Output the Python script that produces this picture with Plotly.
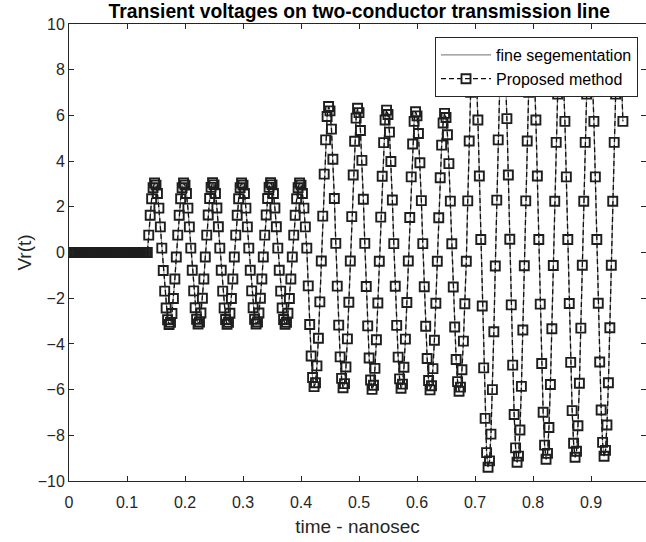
import plotly.graph_objects as go

# ---------------- data ----------------
# quiet part before the wave arrives
t_quiet = [0.0000, 0.0025, 0.0050, 0.0075, 0.0100, 0.0125, 0.0150, 0.0175, 0.0200, 0.0225,
           0.0250, 0.0275, 0.0300, 0.0325, 0.0350, 0.0375, 0.0400, 0.0425, 0.0450, 0.0475,
           0.0500, 0.0525, 0.0550, 0.0575, 0.0600, 0.0625, 0.0650, 0.0675, 0.0700, 0.0725,
           0.0750, 0.0775, 0.0800, 0.0825, 0.0850, 0.0875, 0.0900, 0.0925, 0.0950, 0.0975,
           0.1000, 0.1025, 0.1050, 0.1075, 0.1100, 0.1125, 0.1150, 0.1175, 0.1200, 0.1225,
           0.1250, 0.1275, 0.1300, 0.1325, 0.1350]
v_quiet = [0.00, 0.00, 0.00, 0.00, 0.00, 0.00, 0.00, 0.00, 0.00, 0.00,
           0.00, 0.00, 0.00, 0.00, 0.00, 0.00, 0.00, 0.00, 0.00, 0.00,
           0.00, 0.00, 0.00, 0.00, 0.00, 0.00, 0.00, 0.00, 0.00, 0.00,
           0.00, 0.00, 0.00, 0.00, 0.00, 0.00, 0.00, 0.00, 0.00, 0.00,
           0.00, 0.00, 0.00, 0.00, 0.00, 0.00, 0.00, 0.00, 0.00, 0.00,
           0.00, 0.00, 0.00, 0.00, 0.00]

# first arrival, amplitude about 3
t_seg1 = [0.1375, 0.1400, 0.1425, 0.1450, 0.1475, 0.1500, 0.1525, 0.1550, 0.1575, 0.1600,
          0.1625, 0.1650, 0.1675, 0.1700, 0.1725, 0.1750, 0.1775, 0.1800, 0.1825, 0.1850,
          0.1875, 0.1900, 0.1925, 0.1950, 0.1975, 0.2000, 0.2025, 0.2050, 0.2075, 0.2100,
          0.2125, 0.2150, 0.2175, 0.2200, 0.2225, 0.2250, 0.2275, 0.2300, 0.2325, 0.2350,
          0.2375, 0.2400, 0.2425, 0.2450, 0.2475, 0.2500, 0.2525, 0.2550, 0.2575, 0.2600,
          0.2625, 0.2650, 0.2675, 0.2700, 0.2725, 0.2750, 0.2775, 0.2800, 0.2825, 0.2850,
          0.2875, 0.2900, 0.2925, 0.2950, 0.2975, 0.3000, 0.3025, 0.3050, 0.3075, 0.3100,
          0.3125, 0.3150, 0.3175, 0.3200, 0.3225, 0.3250, 0.3275, 0.3300, 0.3325, 0.3350,
          0.3375, 0.3400, 0.3425, 0.3450, 0.3475, 0.3500, 0.3525, 0.3550, 0.3575, 0.3600,
          0.3625, 0.3650, 0.3675, 0.3700, 0.3725, 0.3750, 0.3775, 0.3800, 0.3825, 0.3850,
          0.3875, 0.3900, 0.3925, 0.3950, 0.3975, 0.4000, 0.4025, 0.4050, 0.4075, 0.4100]
v_seg1 = [0.76, 1.63, 2.35, 2.84, 3.04, 2.95, 2.58, 1.94, 1.12, 0.19,
          -0.79, -1.69, -2.43, -2.94, -3.15, -3.06, -2.67, -2.01, -1.16, -0.20,
          0.76, 1.63, 2.35, 2.84, 3.04, 2.95, 2.58, 1.94, 1.12, 0.19,
          -0.78, -1.68, -2.42, -2.92, -3.13, -3.04, -2.65, -2.00, -1.16, -0.20,
          0.76, 1.64, 2.36, 2.85, 3.05, 2.96, 2.58, 1.95, 1.13, 0.19,
          -0.78, -1.69, -2.43, -2.93, -3.14, -3.05, -2.66, -2.01, -1.16, -0.20,
          0.76, 1.63, 2.35, 2.84, 3.04, 2.95, 2.58, 1.94, 1.12, 0.19,
          -0.78, -1.68, -2.42, -2.92, -3.13, -3.04, -2.65, -2.00, -1.16, -0.20,
          0.76, 1.64, 2.36, 2.85, 3.05, 2.96, 2.58, 1.95, 1.13, 0.19,
          -0.78, -1.69, -2.43, -2.93, -3.14, -3.05, -2.66, -2.01, -1.16, -0.20,
          0.76, 1.63, 2.35, 2.84, 3.04, 2.95, 2.58, 1.94, 1.12, 0.19]

# second arrival, amplitude about 6
t_seg2 = [0.4125, 0.4150, 0.4175, 0.4200, 0.4225, 0.4250, 0.4275, 0.4300, 0.4325, 0.4350,
          0.4375, 0.4400, 0.4425, 0.4450, 0.4475, 0.4500, 0.4525, 0.4550, 0.4575, 0.4600,
          0.4625, 0.4650, 0.4675, 0.4700, 0.4725, 0.4750, 0.4775, 0.4800, 0.4825, 0.4850,
          0.4875, 0.4900, 0.4925, 0.4950, 0.4975, 0.5000, 0.5025, 0.5050, 0.5075, 0.5100,
          0.5125, 0.5150, 0.5175, 0.5200, 0.5225, 0.5250, 0.5275, 0.5300, 0.5325, 0.5350,
          0.5375, 0.5400, 0.5425, 0.5450, 0.5475, 0.5500, 0.5525, 0.5550, 0.5575, 0.5600,
          0.5625, 0.5650, 0.5675, 0.5700, 0.5725, 0.5750, 0.5775, 0.5800, 0.5825, 0.5850,
          0.5875, 0.5900, 0.5925, 0.5950, 0.5975, 0.6000, 0.6025, 0.6050, 0.6075, 0.6100,
          0.6125, 0.6150, 0.6175, 0.6200, 0.6225, 0.6250, 0.6275, 0.6300, 0.6325, 0.6350,
          0.6375, 0.6400, 0.6425, 0.6450, 0.6475, 0.6500, 0.6525, 0.6550, 0.6575, 0.6600,
          0.6625, 0.6650, 0.6675, 0.6700, 0.6725, 0.6750, 0.6775, 0.6800, 0.6825, 0.6850]
v_seg2 = [-1.46, -3.15, -4.53, -5.47, -5.87, -5.70, -4.96, -3.75, -2.16, -0.37,
          1.59, 3.43, 4.93, 5.95, 6.39, 6.20, 5.40, 4.08, 2.36, 0.40,
          -1.47, -3.18, -4.57, -5.51, -5.92, -5.74, -5.01, -3.78, -2.18, -0.37,
          1.57, 3.39, 4.87, 5.88, 6.31, 6.12, 5.34, 4.03, 2.33, 0.40,
          -1.49, -3.21, -4.62, -5.58, -5.99, -5.81, -5.07, -3.82, -2.21, -0.38,
          1.55, 3.34, 4.81, 5.80, 6.23, 6.04, 5.27, 3.98, 2.30, 0.39,
          -1.48, -3.19, -4.58, -5.53, -5.94, -5.76, -5.02, -3.79, -2.19, -0.37,
          1.53, 3.31, 4.75, 5.74, 6.16, 5.98, 5.21, 3.93, 2.27, 0.39,
          -1.50, -3.23, -4.64, -5.60, -6.01, -5.83, -5.08, -3.84, -2.22, -0.38,
          1.52, 3.27, 4.70, 5.67, 6.09, 5.91, 5.15, 3.89, 2.25, 0.38,
          -1.51, -3.26, -4.68, -5.65, -6.07, -5.89, -5.13, -3.88, -2.24, -0.38]

# third arrival, amplitude about 9
t_seg3 = [0.6875, 0.6900, 0.6925, 0.6950, 0.6975, 0.7000, 0.7025, 0.7050, 0.7075, 0.7100,
          0.7125, 0.7150, 0.7175, 0.7200, 0.7225, 0.7250, 0.7275, 0.7300, 0.7325, 0.7350,
          0.7375, 0.7400, 0.7425, 0.7450, 0.7475, 0.7500, 0.7525, 0.7550, 0.7575, 0.7600,
          0.7625, 0.7650, 0.7675, 0.7700, 0.7725, 0.7750, 0.7775, 0.7800, 0.7825, 0.7850,
          0.7875, 0.7900, 0.7925, 0.7950, 0.7975, 0.8000, 0.8025, 0.8050, 0.8075, 0.8100,
          0.8125, 0.8150, 0.8175, 0.8200, 0.8225, 0.8250, 0.8275, 0.8300, 0.8325, 0.8350,
          0.8375, 0.8400, 0.8425, 0.8450, 0.8475, 0.8500, 0.8525, 0.8550, 0.8575, 0.8600,
          0.8625, 0.8650, 0.8675, 0.8700, 0.8725, 0.8750, 0.8775, 0.8800, 0.8825, 0.8850,
          0.8875, 0.8900, 0.8925, 0.8950, 0.8975, 0.9000, 0.9025, 0.9050, 0.9075, 0.9100,
          0.9125, 0.9150, 0.9175, 0.9200, 0.9225, 0.9250, 0.9275, 0.9300, 0.9325, 0.9350,
          0.9375, 0.9400, 0.9425, 0.9450, 0.9475, 0.9500, 0.9525, 0.9550]
v_seg3 = [2.26, 4.88, 7.01, 8.46, 9.08, 8.81, 7.68, 5.80, 3.35, 0.57,
          -2.34, -5.05, -7.26, -8.76, -9.40, -9.12, -7.95, -6.00, -3.47, -0.59,
          2.29, 4.93, 7.09, 8.55, 9.18, 8.91, 7.77, 5.86, 3.39, 0.58,
          -2.29, -4.93, -7.09, -8.55, -9.18, -8.91, -7.77, -5.86, -3.39, -0.58,
          2.26, 4.88, 7.01, 8.46, 9.08, 8.81, 7.68, 5.80, 3.35, 0.57,
          -2.26, -4.86, -6.99, -8.43, -9.05, -8.79, -7.66, -5.78, -3.34, -0.57,
          2.24, 4.82, 6.93, 8.37, 8.98, 8.72, 7.60, 5.74, 3.31, 0.57,
          -2.23, -4.81, -6.92, -8.35, -8.96, -8.70, -7.58, -5.72, -3.31, -0.56,
          2.24, 4.82, 6.93, 8.37, 8.98, 8.72, 7.60, 5.74, 3.31, 0.57,
          -2.22, -4.79, -6.89, -8.31, -8.92, -8.66, -7.55, -5.70, -3.29, -0.56,
          2.24, 4.82, 6.93, 8.37, 8.98, 8.72, 7.60, 5.74]

series_names = ["fine segementation", "Proposed method"]
x_ticks = [0.0, 0.1, 0.2, 0.3, 0.4, 0.5, 0.6, 0.7, 0.8, 0.9]
x_tick_labels = ["0", "0.1", "0.2", "0.3", "0.4", "0.5", "0.6", "0.7", "0.8", "0.9"]
y_ticks = [-10, -8, -6, -4, -2, 0, 2, 4, 6, 8, 10]
y_tick_labels = ["\u221210", "\u22128", "\u22126", "\u22124", "\u22122", "0", "2", "4", "6", "8", "10"]

t_all = t_quiet + t_seg1 + t_seg2 + t_seg3
v_all = v_quiet + v_seg1 + v_seg2 + v_seg3

# ---------------- figure ----------------
FONT = "Liberation Sans, Arial, Helvetica, sans-serif"
AX = "#262626"
W, H = 646, 542
ML, MR, MT, MB = 69, 0, 24, 61
px_per_unit = 580.0
xmax = (W - ML - MR) / px_per_unit

fig = go.Figure()
fig.add_trace(go.Scatter(
    x=t_all, y=v_all, mode="lines", name=series_names[0],
    line=dict(color="#8c8c8c", width=1.2),
))
fig.add_trace(go.Scatter(
    x=t_all, y=v_all, mode="lines+markers", name=series_names[1],
    line=dict(color="#111111", width=1.3, dash="5px,3px"),
    marker=dict(symbol="square-open", size=9, color="#1e1e1e",
                line=dict(color="#1e1e1e", width=1.9)),
))

fig.update_layout(
    width=W, height=H,
    margin=dict(l=ML, r=MR, t=MT, b=MB, pad=0),
    paper_bgcolor="white", plot_bgcolor="white",
    font=dict(family=FONT, color=AX, size=16),
    title=dict(text="<b>Transient voltages on two-conductor transmission line</b>",
               font=dict(family=FONT, size=19.3, color="black"),
               x=(359.3 - ML) / (W - ML - MR), xref="paper", xanchor="center",
               y=1 - 11.5 / H, yref="container", yanchor="middle"),
    showlegend=True,
    legend=dict(x=(638 - ML) / (W - ML - MR), xanchor="right",
                y=(H - MB - 37) / (H - MT - MB), yanchor="top",
                bgcolor="white", bordercolor=AX, borderwidth=1,
                font=dict(family=FONT, size=16, color="black"),
                itemwidth=50, tracegroupgap=0),
)
fig.update_xaxes(
    range=[0, xmax], tickmode="array", tickvals=x_ticks, ticktext=x_tick_labels,
    ticks="inside", ticklen=5, tickwidth=1, tickcolor=AX,
    showline=True, linecolor=AX, linewidth=1, mirror="ticks",
    showgrid=False, zeroline=False, ticklabelstandoff=7,
    tickfont=dict(family=FONT, size=16, color=AX),
    title=dict(text="time - nanosec", font=dict(family=FONT, size=19, color=AX), standoff=9),
)
fig.update_yaxes(
    range=[-10, 10], tickmode="array", tickvals=y_ticks, ticktext=y_tick_labels,
    ticks="inside", ticklen=5, tickwidth=1, tickcolor=AX,
    showline=True, linecolor=AX, linewidth=1, mirror="ticks",
    showgrid=False, zeroline=False,
    tickfont=dict(family=FONT, size=16, color=AX),
    title=dict(text="Vr(t)", font=dict(family=FONT, size=19, color=AX), standoff=1),
)

fig.write_html("out.html")
